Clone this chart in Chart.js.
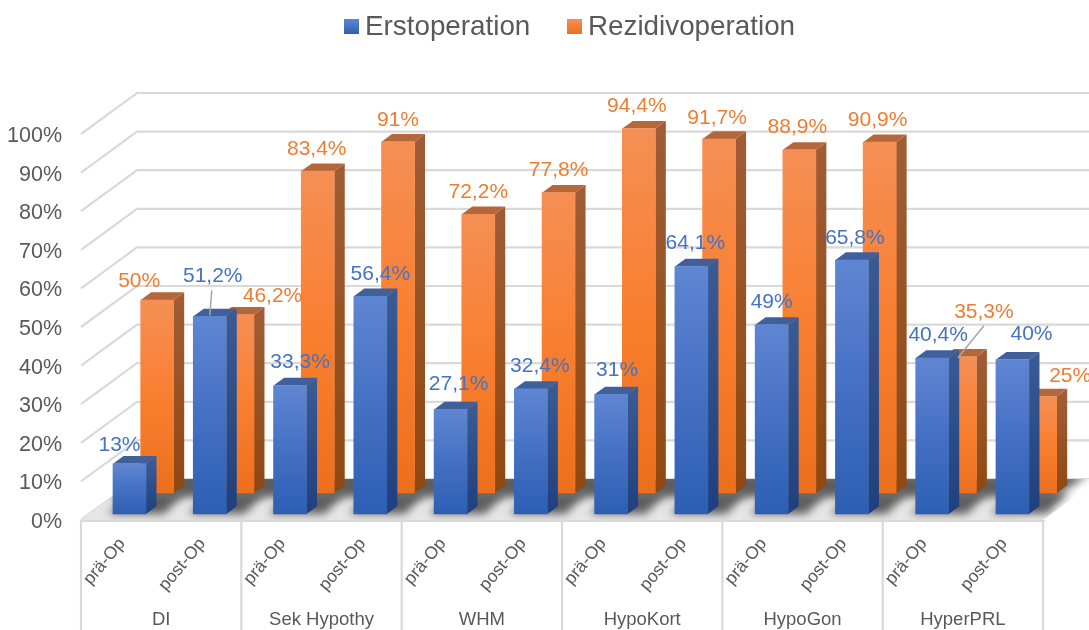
<!DOCTYPE html>
<html lang="de">
<head>
<meta charset="utf-8">
<title>Erstoperation / Rezidivoperation</title>
<script src="https://cdn.jsdelivr.net/npm/chart.js@4"></script>
<style>
  html, body { margin: 0; padding: 0; background: #fff; overflow: hidden; }
  canvas { display: block; }
</style>
</head>
<body>
<canvas id="grafik" width="1089" height="630"></canvas>
<script>
const gruppen = ['DI', 'Sek Hypothy', 'WHM', 'HypoKort', 'HypoGon', 'HyperPRL'];
const zeitpunkte = ['prä-Op', 'post-Op', 'prä-Op', 'post-Op', 'prä-Op', 'post-Op', 'prä-Op', 'post-Op', 'prä-Op', 'post-Op', 'prä-Op', 'post-Op'];
const erstoperation = [13, 51.2, 33.3, 56.4, 27.1, 32.4, 31, 64.1, 49, 65.8, 40.4, 40];
const rezidivoperation = [50, 46.2, 83.4, 91, 72.2, 77.8, 94.4, 91.7, 88.9, 90.9, 35.3, 25];

// label offset from the top centre of each bar
const versatzErst = [[-10, -19], [3, -40], [10, -23], [10, -22], [8, -25], [9, -23], [6, -24], [4, -23], [0, -23], [3, -22], [6, -23], [19, -25]];
const versatzRez = [[-18, -19], [35, -18], [-1, -22], [0, -22], [0, -22], [0, -22], [-2, -22], [-2, -21], [-2, -23], [-2, -22], [24, -45], [30, -20]];

const BLAU = '#4472C4';
const ORANGE = '#ED7D31';
const GRAU = '#595959';
const LINIE = '#D9D9D9';
const TIEFE_X = 10.5, TIEFE_Y = 7.7;        // bar depth
const WAND_X = 56, WAND_Y = 41;             // floor depth
const LINKS = 81, RECHTS = 1043, BODEN = 520;
const PRO_PROZENT = 3.86, OBEN = 80;
const BAR_ABSTAND = 80.27, ACHSE_ABSTAND = 80.17;
const SCHRIFT = '"Liberation Sans", Arial, sans-serif';

const yMax = (BODEN - OBEN) / PRO_PROZENT;
const BREITE = 1089;

function punkte(werte) {
  return werte.map((v, i) => ({ x: i, y: v }));
}

function verlauf(oben, unten) {
  return ctx => {
    if (ctx.type !== 'data') return oben[1];
    const yScale = ctx.chart.scales[ctx.dataset.yAxisID];
    const y0 = yScale.getPixelForValue(ctx.raw.y);
    const y1 = yScale.getPixelForValue(0);
    if (!isFinite(y0) || !isFinite(y1)) return oben[1];
    const g = ctx.chart.ctx.createLinearGradient(0, y0, 0, y1);
    g.addColorStop(0, oben[0]);
    g.addColorStop(0.5, oben[1]);
    g.addColorStop(1, unten);
    return g;
  };
}

function flaeche(c, pts, fill) {
  c.fillStyle = fill;
  c.beginPath();
  pts.forEach((p, i) => i ? c.lineTo(p[0], p[1]) : c.moveTo(p[0], p[1]));
  c.closePath();
  c.fill();
}

// walls, floor, shadows and axis frame
const raumPlugin = {
  id: 'raum',
  beforeDatasetsDraw(chart) {
    const c = chart.ctx;
    const y = chart.scales.y;
    c.save();
    c.strokeStyle = LINIE;
    c.lineWidth = 2.2;
    y.ticks.forEach(t => {
      if (t.value > 100) return;
      const py = y.getPixelForValue(t.value);
      c.beginPath();
      c.moveTo(LINKS, py);
      c.lineTo(LINKS + WAND_X, py - WAND_Y);
      c.lineTo(BREITE, py - WAND_Y);
      c.stroke();
    });

    // floor, fades out towards the right corner
    const boden = [[LINKS, BODEN], [RECHTS, BODEN], [RECHTS + WAND_X, BODEN - WAND_Y], [LINKS + WAND_X, BODEN - WAND_Y]];
    const bodenFarbe = c.createLinearGradient(1010, 0, 1078, 0);
    bodenFarbe.addColorStop(0, '#E6E6E6');
    bodenFarbe.addColorStop(1, '#FFFFFF');
    flaeche(c, boden, bodenFarbe);
    c.save();
    c.beginPath();
    boden.forEach((p, i) => i ? c.lineTo(p[0], p[1]) : c.moveTo(p[0], p[1]));
    c.closePath();
    c.clip();
    c.filter = 'blur(4px)';
    flaeche(c, [[LINKS + 30, BODEN - 23], [RECHTS + 10, BODEN - 23], [RECHTS + 46, BODEN - 45], [LINKS + 40, BODEN - 50]], '#5E5E5E');
    chart.getDatasetMeta(0).data.forEach(el => {
      const l = el.x - el.width / 2;
      const b = el.base;
      flaeche(c, [[l - 5, b], [l + el.width + 18, b], [l + el.width + 40, b - 22], [l + 18, b - 22]], '#5E5E5E');
    });
    c.filter = 'none';
    c.restore();

    // front edge and group separators
    c.beginPath();
    c.moveTo(LINKS - 1, BODEN + 1);
    c.lineTo(RECHTS + 2, BODEN + 1);
    c.stroke();
    for (let i = 0; i <= gruppen.length; i++) {
      const px = chart.scales.x.getPixelForValue(i * 2 - 0.5);
      c.beginPath();
      c.moveTo(px, BODEN);
      c.lineTo(px, 630);
      c.stroke();
    }
    c.fillStyle = GRAU;
    c.font = '18.5px ' + SCHRIFT;
    c.textAlign = 'center';
    c.textBaseline = 'middle';
    gruppen.forEach((g, i) => {
      c.fillText(g, chart.scales.x.getPixelForValue(i * 2 + 0.5), 620);
    });
    c.restore();
  },
  // side and top of each bar go in right before its front
  beforeDatasetDraw(chart, args) {
    const c = chart.ctx;
    const farben = args.index === 0
      ? { deckel: '#41609B', seiteOben: '#3A5A94', seiteUnten: '#1F3F7E' }
      : { deckel: '#B5673C', seiteOben: '#A05C35', seiteUnten: '#8F4812' };
    c.save();
    args.meta.data.forEach(el => {
      const l = el.x - el.width / 2;
      const r = el.x + el.width / 2;
      const g = c.createLinearGradient(0, el.y, 0, el.base);
      g.addColorStop(0, farben.seiteOben);
      g.addColorStop(1, farben.seiteUnten);
      flaeche(c, [[r, el.y], [r + TIEFE_X, el.y - TIEFE_Y], [r + TIEFE_X, el.base - TIEFE_Y], [r, el.base]], g);
      flaeche(c, [[l, el.y], [r, el.y], [r + TIEFE_X, el.y - TIEFE_Y], [l + TIEFE_X, el.y - TIEFE_Y]], farben.deckel);
    });
    c.restore();
  },
  afterDatasetsDraw(chart) {
    const c = chart.ctx;
    const blau = chart.getDatasetMeta(0).data;
    const rez = chart.getDatasetMeta(1).data;
    c.save();

    // leader lines
    c.strokeStyle = '#A6A6A6';
    c.lineWidth = 1.5;
    c.beginPath();
    c.moveTo(blau[1].x + versatzErst[1][0] - 1, blau[1].y + versatzErst[1][1] + 14);
    c.lineTo(blau[1].x, blau[1].y - 1);
    c.moveTo(rez[10].x + versatzRez[10][0], rez[10].y + versatzRez[10][1] + 14);
    c.lineTo(rez[10].x - 2, rez[10].y + 1);
    c.stroke();

    // data labels
    c.font = '21px ' + SCHRIFT;
    c.textAlign = 'center';
    c.textBaseline = 'middle';
    const schreiben = (bars, werte, versatz, farbe) => {
      c.fillStyle = farbe;
      bars.forEach((el, i) => {
        const text = String(werte[i]).replace('.', ',') + '%';
        c.fillText(text, el.x + versatz[i][0], el.y + versatz[i][1]);
      });
    };
    schreiben(rez, rezidivoperation, versatzRez, ORANGE);
    schreiben(blau, erstoperation, versatzErst, BLAU);

    // legend
    c.font = '27.8px ' + SCHRIFT;
    c.textAlign = 'left';
    chart.data.datasets.forEach((ds, i) => {
      const x = i === 0 ? 344 : 567;
      const g = c.createLinearGradient(0, 19, 0, 34);
      g.addColorStop(0, i === 0 ? '#5F86D2' : '#F58F55');
      g.addColorStop(1, i === 0 ? '#2C5FB3' : '#EC6F1C');
      c.fillStyle = g;
      c.fillRect(x, 19, 15, 15);
      c.fillStyle = GRAU;
      c.fillText(ds.label, x + 21, 27);
    });
    c.restore();
  }
};

new Chart(document.getElementById('grafik'), {
  type: 'bar',
  data: {
    datasets: [
      {
        label: 'Erstoperation',
        data: punkte(erstoperation),
        xAxisID: 'xErst',
        yAxisID: 'yErst',
        grouped: false,
        barThickness: 33,
        backgroundColor: verlauf(['#5F86D2', '#4570C3'], '#2C5FB3')
      },
      {
        label: 'Rezidivoperation',
        data: punkte(rezidivoperation),
        xAxisID: 'xRez',
        yAxisID: 'yRez',
        grouped: false,
        barThickness: 33,
        backgroundColor: verlauf(['#F58F55', '#F97F30'], '#EC6F1C')
      }
    ]
  },
  plugins: [raumPlugin],
  options: {
    responsive: false,
    animation: false,
    layout: { padding: { top: OBEN, right: 0, bottom: 0, left: 0 } },
    plugins: {
      legend: { display: false },
      tooltip: { enabled: false }
    },
    scales: {
      // visible axes sit on the front plane
      x: {
        type: 'linear',
        position: 'bottom',
        offset: false,
        bounds: 'data',
        min: -0.5,
        max: (BREITE - LINKS) / ACHSE_ABSTAND - 0.5,
        afterBuildTicks: s => { s.ticks = zeitpunkte.map((_, i) => ({ value: i })); },
        afterFit: s => { s.height = 630 - BODEN; },
        grid: { display: false },
        border: { display: false },
        ticks: {
          autoSkip: false,
          minRotation: 50,
          maxRotation: 50,
          padding: 6,
          labelOffset: 1,
          color: GRAU,
          font: { family: SCHRIFT, size: 17.5 },
          callback: v => zeitpunkte[v] ?? ''
        }
      },
      y: {
        bounds: 'data',
        min: 0,
        max: yMax,
        afterFit: s => { s.width = LINKS; },
        grid: { display: false },
        border: { display: false },
        ticks: {
          stepSize: 10,
          includeBounds: false,
          padding: 11,
          labelOffset: 2,
          color: GRAU,
          font: { family: SCHRIFT, size: 21.5 },
          callback: v => v <= 100 ? v + '%' : ''
        }
      },
      // the two rows of bars stand further back on the floor
      xErst: {
        type: 'linear',
        display: false,
        offset: false,
        bounds: 'data',
        min: (LINKS - 129.5) / BAR_ABSTAND,
        max: (BREITE - 129.5) / BAR_ABSTAND
      },
      yErst: { display: false, bounds: 'data', min: -6 / PRO_PROZENT, max: yMax - 6 / PRO_PROZENT },
      xRez: {
        type: 'linear',
        display: false,
        offset: false,
        bounds: 'data',
        min: (LINKS - 157.2) / BAR_ABSTAND,
        max: (BREITE - 157.2) / BAR_ABSTAND
      },
      yRez: { display: false, bounds: 'data', min: -27 / PRO_PROZENT, max: yMax - 27 / PRO_PROZENT }
    }
  }
});
</script>
</body>
</html>
